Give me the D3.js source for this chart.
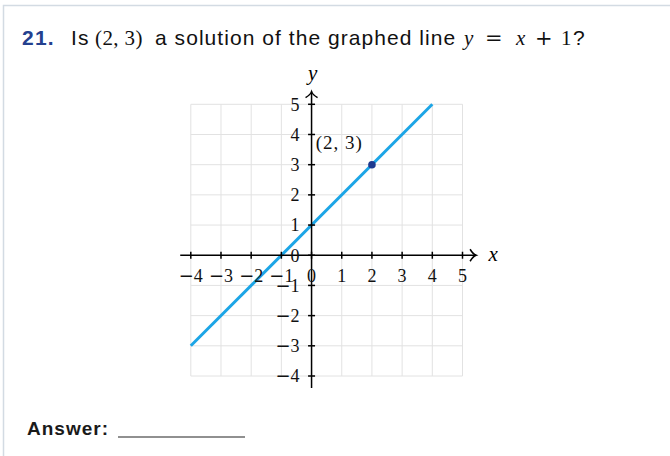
<!DOCTYPE html>
<html>
<head>
<meta charset="utf-8">
<script src="https://cdn.jsdelivr.net/npm/d3@7"></script>
<style>
  body { margin: 0; background: #fff; }
  svg { display: block; }
</style>
</head>
<body>
<div id="chart"></div>
<script>
// data
var xTicks = [-4, -3, -2, -1, 0, 1, 2, 3, 4, 5];
var yTicks = [-4, -3, -2, -1, 0, 1, 2, 3, 4, 5];
var linePts = [[-4, -3], [4, 5]];   // graphed line y = x + 1
var point = [2, 3];
var pointLabel = "(2, 3)";

var W = 670, H = 456;
var SANS = "Liberation Sans, Arial, sans-serif";
var SERIF = "Liberation Serif, serif";

var svg = d3.select("#chart").append("svg")
    .attr("width", W).attr("height", H);

// page frame
svg.append("path")
    .attr("d", "M3.5," + H + " V5.5 H" + W)
    .attr("fill", "none")
    .attr("stroke", "#d3dbe3")
    .attr("stroke-width", 1.5);

// title - mix of sans text and TeX-like math
var title = svg.append("text")
    .attr("y", 44.5)
    .style("font-family", SANS)
    .style("font-size", "21px")
    .style("letter-spacing", "1.2px")
    .attr("fill", "#111");
function part(txt, px, math, italic) {
    var t = title.append("tspan").attr("x", px).text(txt);
    if (math) t.style("font-family", SERIF).style("letter-spacing", "0.4px");
    if (italic) t.style("font-style", "italic");
    return t;
}
part("21.", 22).attr("font-weight", "bold").attr("fill", "#24408e");
part("Is", 71);
part("(2, 3)", 95, true);
part("a solution of the graphed line", 155).style("letter-spacing", "1.05px");
part("y", 464, true, true);
part("=", 485, true).style("font-family", "DejaVu Serif, serif");
part("x", 516, true, true);
part("+", 535, true).style("font-family", "DejaVu Serif, serif");
part("1", 561, true);
part("?", 573);

// scales
var x = d3.scaleLinear().domain([-4, 5]).range([190.8, 462.5]);
var y = d3.scaleLinear().domain([-4, 5]).range([376, 104.3]);

// grid
var grid = svg.append("g").attr("stroke", "#e2e2e2").attr("stroke-width", 1);
grid.selectAll("line.v").data(xTicks).enter().append("line")
    .attr("x1", d => x(d)).attr("x2", d => x(d))
    .attr("y1", y(-4)).attr("y2", y(5));
grid.selectAll("line.h").data(yTicks).enter().append("line")
    .attr("y1", d => y(d)).attr("y2", d => y(d))
    .attr("x1", x(-4)).attr("x2", x(5));

// graphed line
svg.append("path")
    .datum(linePts)
    .attr("d", d3.line().x(d => x(d[0])).y(d => y(d[1])))
    .attr("fill", "none")
    .attr("stroke", "#1ca5e6")
    .attr("stroke-width", 3);

// axes
var axisG = svg.append("g").attr("stroke", "#000").attr("stroke-width", 1.5).attr("fill", "none");
axisG.append("line").attr("x1", x(-4.35)).attr("x2", x(5.45)).attr("y1", y(0)).attr("y2", y(0));
axisG.append("line").attr("y1", y(-4.4)).attr("y2", y(5.42)).attr("x1", x(0)).attr("x2", x(0));
// arrow heads
var ax = x(5.45), ay = y(0);
axisG.append("path").attr("d", "M" + (ax - 6) + "," + (ay - 6) + " Q" + (ax - 3) + "," + (ay - 1) + " " + ax + "," + ay + " Q" + (ax - 3) + "," + (ay + 1) + " " + (ax - 6) + "," + (ay + 6));
var bx = x(0), by = y(5.42);
axisG.append("path").attr("d", "M" + (bx - 6) + "," + (by + 6) + " Q" + (bx - 1) + "," + (by + 3) + " " + bx + "," + by + " Q" + (bx + 1) + "," + (by + 3) + " " + (bx + 6) + "," + (by + 6));
// ticks
axisG.selectAll("line.xt").data(xTicks).enter().append("line")
    .attr("x1", d => x(d)).attr("x2", d => x(d))
    .attr("y1", y(0) - 3.5).attr("y2", y(0) + 3.5);
axisG.selectAll("line.yt").data(yTicks).enter().append("line")
    .attr("y1", d => y(d)).attr("y2", d => y(d))
    .attr("x1", x(0) - 3.5).attr("x2", x(0) + 3.5);

// tick labels (wide minus like TeX)
function tickLabel(sel) {
    sel.each(function (d) {
        var t = d3.select(this);
        if (d < 0) {
            t.append("tspan").text("\u2212").style("font-family", "DejaVu Sans, sans-serif").style("font-size", "18px");
        }
        t.append("tspan").text(Math.abs(d));
    });
}
var lab = svg.append("g")
    .style("font-family", SERIF)
    .style("font-size", "18px")
    .attr("fill", "#111");
lab.selectAll("text.xl").data(xTicks).enter().append("text")
    .attr("x", d => x(d)).attr("y", y(0) + 20)
    .attr("dy", "0.35em")
    .attr("text-anchor", "middle")
    .call(tickLabel);
lab.selectAll("text.yl").data(yTicks).enter().append("text")
    .attr("x", x(0) - 12).attr("y", d => y(d))
    .attr("dy", "0.35em")
    .attr("text-anchor", "end")
    .call(tickLabel);

// axis names
svg.append("text").attr("x", x(0) + 1).attr("y", 73).attr("dy", "0.35em")
    .attr("text-anchor", "middle")
    .style("font-family", SERIF).style("font-style", "italic").style("font-size", "21px")
    .text("y");
svg.append("text").attr("x", x(5.45) + 17).attr("y", y(0) - 2).attr("dy", "0.35em")
    .attr("text-anchor", "middle")
    .style("font-family", SERIF).style("font-style", "italic").style("font-size", "21px")
    .text("x");

// point
svg.append("circle")
    .attr("cx", x(point[0])).attr("cy", y(point[1]))
    .attr("r", 3.8)
    .attr("fill", "#1e3a8f");
svg.append("text")
    .attr("x", x(point[0]) - 9).attr("y", y(point[1]) - 22)
    .attr("dy", "0.35em")
    .attr("text-anchor", "end")
    .style("font-family", SERIF).style("font-size", "19px").style("letter-spacing", "1px")
    .attr("fill", "#111")
    .text(pointLabel);

// answer line
svg.append("text")
    .attr("x", 27).attr("y", 435)
    .style("font-family", SANS)
    .style("font-size", "19px").style("letter-spacing", "1px")
    .attr("font-weight", "bold")
    .attr("fill", "#1a1a1a")
    .text("Answer:");
svg.append("line")
    .attr("x1", 118).attr("x2", 245).attr("y1", 437).attr("y2", 437)
    .attr("stroke", "#222").attr("stroke-width", 1.2);
</script>
</body>
</html>
